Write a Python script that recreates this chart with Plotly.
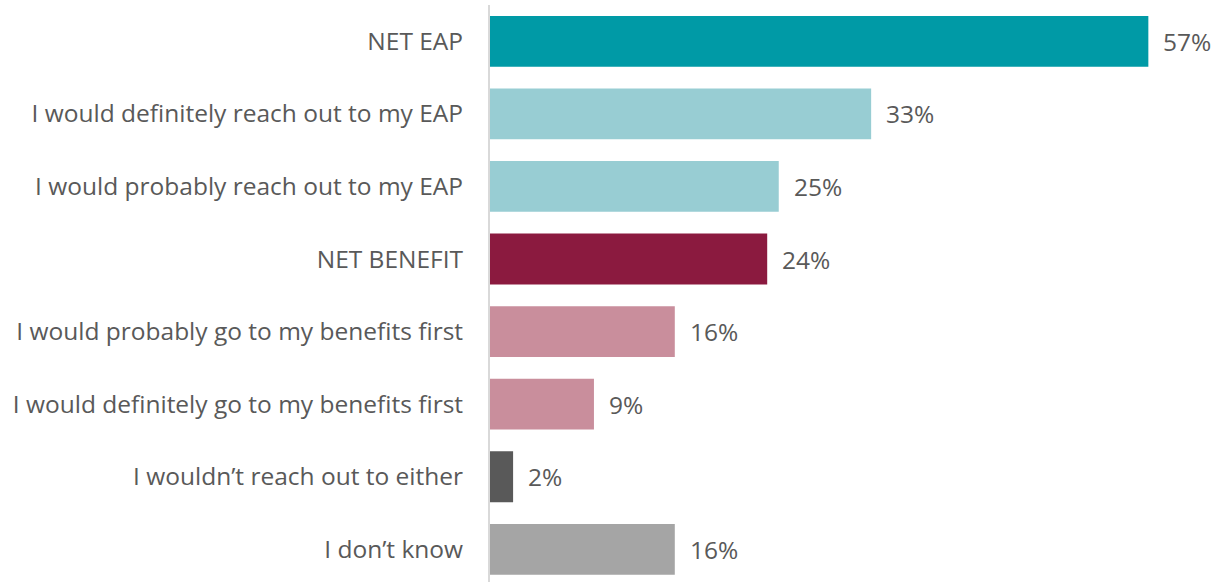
import plotly.graph_objects as go

categories = [
    "NET EAP",
    "I would definitely reach out to my EAP",
    "I would probably reach out to my EAP",
    "NET BENEFIT",
    "I would probably go to my benefits first",
    "I would definitely go to my benefits first",
    "I wouldn\u2019t reach out to either",
    "I don\u2019t know",
]
values = [57, 33, 25, 24, 16, 9, 2, 16]
colors = ["#009AA6", "#98CDD3", "#98CDD3", "#8B1A3F",
          "#C98E9C", "#C98E9C", "#595959", "#A5A5A5"]

FONT = "Open Sans"
SIZE = 24.5
TEXT_COLOR = "#595959"

fig = go.Figure(
    go.Bar(
        x=values,
        y=categories,
        orientation="h",
        marker=dict(color=colors, line=dict(width=0)),
        hoverinfo="skip",
    )
)

for cat, val in zip(categories, values):
    fig.add_annotation(
        x=val, y=cat, text=f"{val}%", showarrow=False,
        xanchor="left", xshift=13,
        font=dict(family=FONT, size=SIZE, color=TEXT_COLOR),
    )

fig.update_layout(
    width=1215, height=582,
    margin=dict(l=490, r=32, t=5, b=0),
    plot_bgcolor="white", paper_bgcolor="white",
    bargap=0.3,
    showlegend=False,
    font=dict(family=FONT, size=SIZE, color=TEXT_COLOR),
)
fig.update_xaxes(range=[0, 60], visible=False)
fig.update_yaxes(
    range=[7.45, -0.5],
    showline=True, linecolor="#D9D9D9", linewidth=2,
    showgrid=False, ticks="", ticklabelstandoff=20,
    tickfont=dict(family=FONT, size=SIZE, color=TEXT_COLOR),
)

fig.write_html("out.html")
